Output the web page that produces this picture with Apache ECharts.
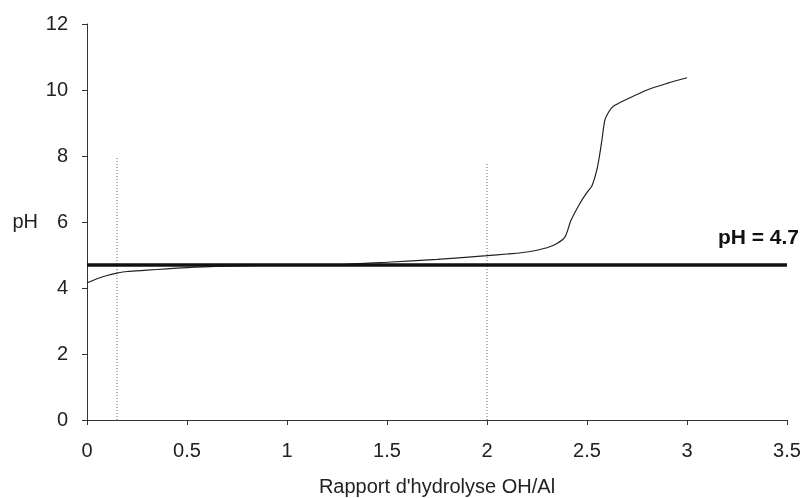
<!DOCTYPE html>
<html><head><meta charset="utf-8">
<script src="https://cdn.jsdelivr.net/npm/echarts@6/dist/echarts.min.js"></script>
<style>html,body{margin:0;padding:0;background:#fff}#c{width:805px;height:498px}</style>
</head><body><div id="c"></div>
<script>
const ratioX = [0, 0.05, 0.1, 0.15, 0.2, 0.3, 0.4, 0.5, 0.7, 1.0, 1.3, 1.5, 1.75, 2.0, 2.1, 2.2, 2.3, 2.35, 2.39, 2.42, 2.465, 2.5, 2.525, 2.55, 2.565, 2.575, 2.59, 2.61, 2.63, 2.7, 2.8, 2.9, 3.0];
const phY    = [4.15, 4.28, 4.38, 4.45, 4.5, 4.54, 4.58, 4.62, 4.66, 4.7, 4.72, 4.78, 4.87, 4.98, 5.03, 5.09, 5.22, 5.35, 5.55, 6.05, 6.57, 6.9, 7.1, 7.6, 8.1, 8.5, 9.1, 9.35, 9.5, 9.72, 10.0, 10.2, 10.37];
const refPH = 4.7;
const refLabel = 'pH = 4.7';
const markerX = [0.15, 2.0];
const markerTop = [8.0, 7.8];
const xTicks = [0, 0.5, 1, 1.5, 2, 2.5, 3, 3.5];
const yTicks = [0, 2, 4, 6, 8, 10, 12];

const curve = ratioX.map((x, i) => [x, phY[i]]);
const font = 'Liberation Sans, Arial, sans-serif';
const axisCol = '#333';

const series = [
  {
    type: 'line', data: curve, smooth: 0.3, symbol: 'none',
    lineStyle: { color: '#222', width: 1.2 }, z: 3
  },
  {
    type: 'line', data: [[xTicks[0], refPH], [xTicks[xTicks.length - 1], refPH]],
    symbol: 'none', lineStyle: { color: '#111', width: 3.5 }, z: 4
  }
];
markerX.forEach((x, i) => {
  series.push({
    type: 'line', data: [[x, 0], [x, markerTop[i]]], symbol: 'none',
    lineStyle: { color: '#666', width: 1, type: [1, 2] }, z: 2
  });
});

const chart = echarts.init(document.getElementById('c'));
chart.setOption({
  animation: false,
  backgroundColor: '#fff',
  grid: { left: 87, right: 18, top: 24, bottom: 78, containLabel: false, outerBoundsMode: 'none' },
  xAxis: {
    type: 'value', min: 0, max: 3.5, interval: 0.5,
    name: "Rapport d'hydrolyse OH/Al", nameLocation: 'middle', nameGap: 57,
    nameTextStyle: { fontFamily: font, fontSize: 20, color: '#222' },
    axisLine: { show: true, lineStyle: { color: axisCol, width: 1 } },
    axisTick: { show: true, length: 5, lineStyle: { color: axisCol } },
    axisLabel: { fontFamily: font, fontSize: 20, color: '#222', margin: 21 },
    splitLine: { show: false }
  },
  yAxis: {
    type: 'value', min: 0, max: 12, interval: 2,
    name: 'pH', nameLocation: 'middle', nameGap: 49, nameRotate: 0,
    nameTextStyle: { fontFamily: font, fontSize: 20, color: '#222', align: 'right', padding: [6, 0, 0, 0] },
    axisLine: { show: true, lineStyle: { color: axisCol, width: 1 } },
    axisTick: { show: true, length: 5, lineStyle: { color: axisCol } },
    axisLabel: { fontFamily: font, fontSize: 20, color: '#222', margin: 19 },
    splitLine: { show: false }
  },
  series: series
});

// label of the reference line, positioned through the axis scale
const p = chart.convertToPixel({ gridIndex: 0 }, [xTicks[xTicks.length - 1], refPH]);
chart.setOption({
  graphic: [{
    type: 'text', right: 805 - p[0] - 12, top: p[1] - 37,
    style: { text: refLabel, font: 'bold 21px ' + font, fill: '#111' }
  }]
});
</script></body></html>
